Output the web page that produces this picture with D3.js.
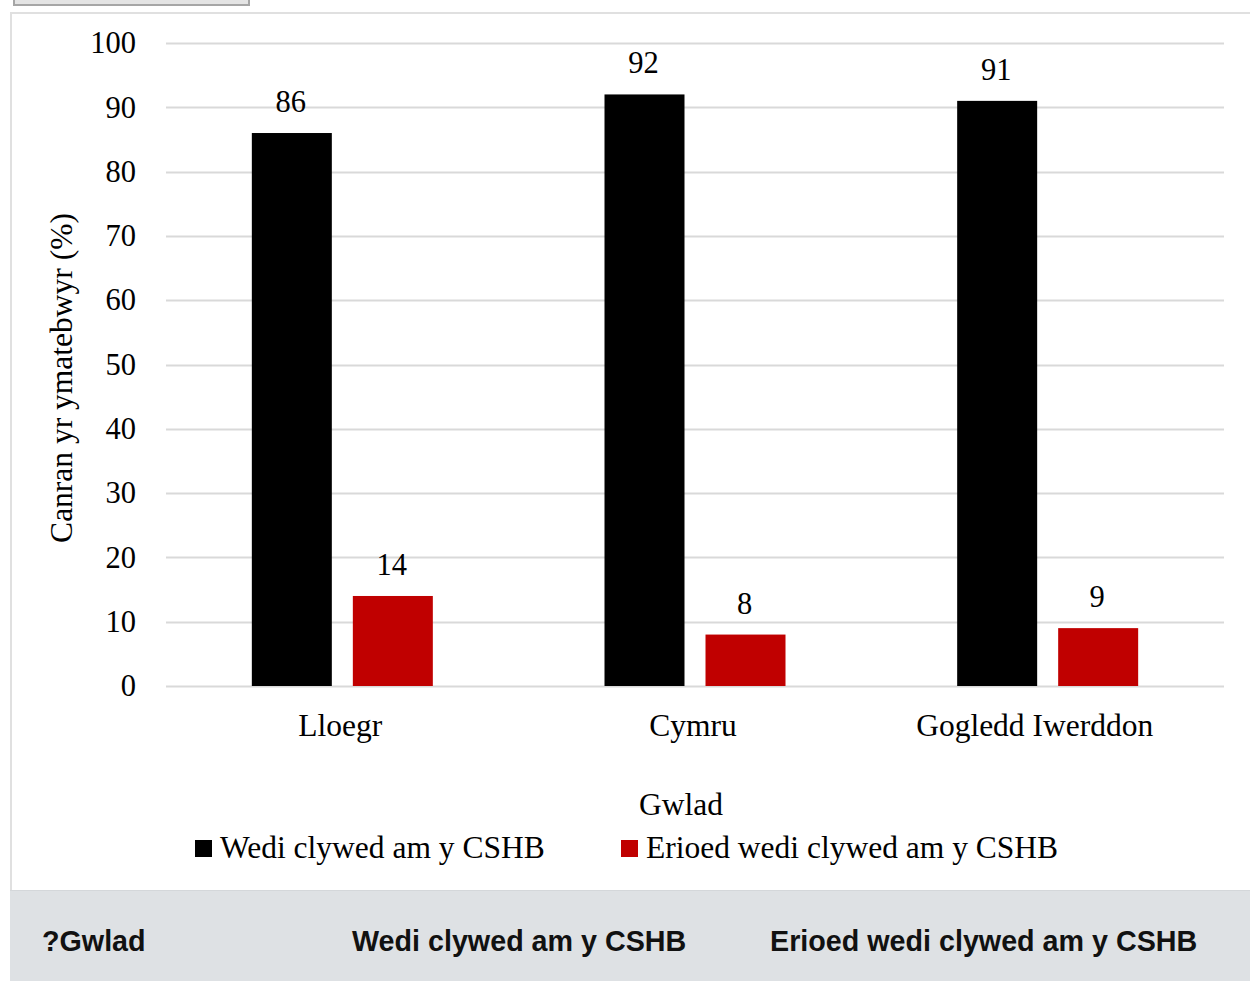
<!DOCTYPE html>
<html><head><meta charset="utf-8">
<script src="https://cdn.jsdelivr.net/npm/d3@7"></script>
<style>
html,body{margin:0;padding:0;background:#fff;}
svg{display:block;}
</style></head>
<body>
<svg id="chart" width="1250" height="981"></svg>
<script>
const categories = ["Lloegr", "Cymru", "Gogledd Iwerddon"];
const seriesNames = ["Wedi clywed am y CSHB", "Erioed wedi clywed am y CSHB"];
const heardValues = [86, 92, 91];
const neverHeardValues = [14, 8, 9];
const yTicks = [0, 10, 20, 30, 40, 50, 60, 70, 80, 90, 100];
const colors = ["#000000", "#c00000"];
const headerLabels = ["?Gwlad", "Wedi clywed am y CSHB", "Erioed wedi clywed am y CSHB"];

(function () {
const svg = d3.select("#chart");
const serif = "'Liberation Serif','Times New Roman',serif";
const sans = "'Liberation Sans',Arial,sans-serif";
const fs = 31.5;

// top partial box
svg.append("rect").attr("x", 14).attr("y", -10).attr("width", 235).attr("height", 15)
  .attr("fill", "#e4e4e4").attr("stroke", "#a6a6a6").attr("stroke-width", 2);

// container border
svg.append("path").attr("d", "M11,981 V13 H1250").attr("fill", "none")
  .attr("stroke", "#e0e0e0").attr("stroke-width", 2);

// bottom header band
svg.append("rect").attr("x", 10).attr("y", 890).attr("width", 1240).attr("height", 91).attr("fill", "#dee1e4");
svg.append("line").attr("x1", 10).attr("x2", 1250).attr("y1", 890.5).attr("y2", 890.5).attr("stroke", "#d4d7da");
const headerX = [42, 352, 770];
svg.selectAll("text.hdr").data(headerLabels).join("text").attr("class", "hdr")
  .attr("x", (d, i) => headerX[i]).attr("y", 951)
  .attr("font-family", sans).attr("font-weight", "bold").attr("font-size", 28.7)
  .attr("fill", "#111").text(d => d);

const pLeft = 166, pRight = 1224, pTop = 43, pBottom = 686;
const x = d3.scaleBand().domain(categories).range([pLeft, pRight]).paddingInner(0).paddingOuter(0);
const x1 = d3.scaleBand().domain([0, 1]).range([0, 181]).paddingInner(0.208);
const y = d3.scaleLinear().domain([0, 100]).range([pBottom, pTop]);

// gridlines
svg.append("g").selectAll("line").data(yTicks).join("line")
  .attr("x1", pLeft).attr("x2", pRight)
  .attr("y1", d => Math.round(y(d)) + 0.5).attr("y2", d => Math.round(y(d)) + 0.5)
  .attr("stroke", "#d9d9d9").attr("stroke-width", 2);

// y tick labels
const yAxis = d3.axisLeft(y).tickValues(yTicks).tickSize(0).tickPadding(0);
const yg = svg.append("g").attr("transform", `translate(136,0)`).call(yAxis);
yg.attr("font-family", serif);
yg.select(".domain").remove();
yg.selectAll("text").attr("font-family", serif).attr("font-size", 30.5).attr("fill", "#000").attr("dy", "0.32em");

// x labels
const xOffsets = [-2, -2, -13];
const xAxis = d3.axisBottom(x).tickSize(0).tickPadding(0);
const xg = svg.append("g").attr("transform", `translate(0,${pBottom + 50})`).call(xAxis);
xg.attr("font-family", serif);
xg.select(".domain").remove();
xg.selectAll("text").attr("font-family", serif).attr("font-size", fs).attr("fill", "#000").attr("dy", 0)
  .attr("dx", (d, i) => xOffsets[i]);

const data = categories.map((c, i) => ({cat: c, vals: [heardValues[i], neverHeardValues[i]]}));
const groups = svg.append("g").selectAll("g").data(data).join("g")
  .attr("transform", d => `translate(${x(d.cat) + x.bandwidth() / 2 - 90.5},0)`);
groups.selectAll("rect").data(d => d.vals.map((v, k) => ({v, k}))).join("rect")
  .attr("x", d => x1(d.k)).attr("width", x1.bandwidth())
  .attr("y", d => y(d.v)).attr("height", d => y(0) - y(d.v))
  .attr("fill", d => colors[d.k]);
groups.selectAll("text").data(d => d.vals.map((v, k) => ({v, k}))).join("text")
  .attr("x", d => x1(d.k) + x1.bandwidth() / 2 - 1).attr("y", d => y(d.v) - 21)
  .attr("text-anchor", "middle").attr("font-family", serif).attr("font-size", 30.5)
  .text(d => d.v);

// axis titles
svg.append("text").attr("x", 681).attr("y", 815).attr("text-anchor", "middle")
  .attr("font-family", serif).attr("font-size", fs).text("Gwlad");
svg.append("text").attr("transform", "translate(72,378) rotate(-90)").attr("text-anchor", "middle")
  .attr("font-family", serif).attr("font-size", fs).text("Canran yr ymatebwyr (%)");

// legend
const legX = [195, 621];
const leg = svg.append("g").selectAll("g").data(seriesNames).join("g")
  .attr("transform", (d, i) => `translate(${legX[i]},840)`);
leg.append("rect").attr("width", 17).attr("height", 17).attr("fill", (d, i) => colors[i]);
leg.append("text").attr("x", 25).attr("y", 18).attr("font-family", serif).attr("font-size", fs).text(d => d);
})();
</script>
</body></html>
